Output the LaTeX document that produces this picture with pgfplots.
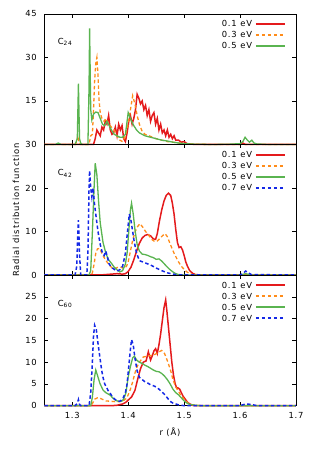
\documentclass[border=0pt]{standalone}
\usepackage{pgfplots}
\pgfplotsset{compat=1.18}
\usepackage{fontspec}
\setmainfont{DejaVu Sans}[LetterSpace=10]
\definecolor{cRed}{RGB}{228,26,28}
\definecolor{cOrange}{RGB}{255,140,26}
\definecolor{cGreen}{RGB}{90,180,80}
\definecolor{cBlue}{RGB}{20,40,230}
\newcommand{\fs}{\fontsize{8.4}{10}\selectfont}
\pgfplotsset{
  panel/.style={
    scale only axis, width=251.7bp, height=130.5bp,
    xmin=1.25, xmax=1.7, xtick={1.3,1.4,1.5,1.6,1.7},
    tick align=inside, major tick length=4bp,
    tick style={black, line width=0.6bp},
    axis line style={line width=0.8bp},
    clip=false,
    tick label style={font=\fs},
    yticklabel style={xshift=-4bp},
    xticklabel style={yshift=-3.5bp},
    /pgf/number format/assume math mode=true,
    legend cell align=right, legend plot pos=right,
    legend image code/.code={\draw[##1, line width=1.8bp] (0bp,0bp) -- (29bp,0bp);},
    legend style={draw=none, fill=none, at={(rel axis cs:1,1)}, anchor=north east,
      inner sep=0pt, row sep=0pt,
      xshift=-10bp, yshift=-4.5bp, font=\fs,
      nodes={inner ysep=2bp, inner xsep=3bp, text height=6.2bp, text depth=0.8bp}},
  },
  sR/.style={color=cRed, line width=1.5bp},
  sO/.style={color=cOrange, line width=1.3bp, dash pattern=on 3.5bp off 2.5bp},
  sG/.style={color=cGreen, line width=1.3bp},
  sB/.style={color=cBlue, line width=1.5bp, dash pattern=on 3.5bp off 2.5bp},
}
\begin{document}
\begin{tikzpicture}
\useasboundingbox (0,0) rectangle (336bp,450bp);
% ---------- panel 1: C24
\begin{axis}[panel, at={(44.3bp,305.5bp)}, anchor=south west,
  ymin=0, ymax=45, ytick={0,15,30,45}, yticklabels={,15,30,45}, xticklabels={}]
\addplot[sR] coordinates {(1.25,0) (1.338,0) (1.341,2) (1.344,5) (1.347,4) (1.35,3) (1.353,6) (1.356,5) (1.359,8) (1.362,7) (1.365,10) (1.368,5) (1.371,3.5) (1.374,4) (1.377,6) (1.38,3) (1.383,7) (1.386,5) (1.389,6.5) (1.392,2) (1.395,1) (1.398,4) (1.401,8) (1.404,10) (1.407,7) (1.41,9) (1.413,12) (1.416,17.3) (1.419,16) (1.422,14) (1.425,15) (1.428,12) (1.431,13.5) (1.434,10) (1.437,12) (1.44,8) (1.443,10) (1.446,11) (1.449,7) (1.452,9) (1.455,5) (1.458,7) (1.461,4) (1.464,5) (1.467,3) (1.47,5) (1.473,2.5) (1.476,3.5) (1.479,2) (1.482,3) (1.485,1.5) (1.49,1.5) (1.495,0.8) (1.5,1) (1.505,0.3) (1.51,0.2) (1.52,0) (1.6,0) (1.605,0.5) (1.61,0) (1.7,0)};
\addlegendentry{0.1 eV}
\addplot[sO] coordinates {(1.25,0) (1.305,0) (1.308,1) (1.31,3) (1.312,0.5) (1.315,0) (1.33,0) (1.333,3) (1.336,3.5) (1.338,12) (1.34,22) (1.342,28) (1.344,30) (1.346,24) (1.348,15) (1.35,11) (1.353,9) (1.357,8) (1.36,9) (1.365,7) (1.37,6) (1.375,5) (1.38,3) (1.385,1.5) (1.39,1) (1.395,3) (1.4,7) (1.404,12) (1.408,16.8) (1.412,14) (1.416,10) (1.42,7) (1.425,4.5) (1.43,3.5) (1.44,2.8) (1.45,2) (1.46,1.5) (1.47,1) (1.48,0.8) (1.49,0.5) (1.5,0.3) (1.52,0.1) (1.55,0) (1.7,0)};
\addlegendentry{0.3 eV}
\addplot[sG] coordinates {(1.25,0) (1.27,0) (1.275,0.5) (1.28,0) (1.305,0) (1.309,2) (1.311,21) (1.313,2) (1.315,0.5) (1.318,0) (1.328,0) (1.33,20) (1.331,40) (1.333,12) (1.335,8.5) (1.338,10.5) (1.342,11.2) (1.346,11) (1.35,9) (1.354,7) (1.358,6.5) (1.362,8) (1.366,6.5) (1.37,5) (1.375,3.5) (1.38,3) (1.385,2.5) (1.39,2.5) (1.395,3.5) (1.398,8) (1.4,11) (1.403,9.5) (1.406,8) (1.41,6.5) (1.415,5) (1.42,4) (1.43,3) (1.44,2.5) (1.45,2) (1.46,1.5) (1.47,1.2) (1.48,0.8) (1.49,0.5) (1.5,0.3) (1.52,0.1) (1.55,0) (1.58,0.1) (1.6,0.3) (1.605,1) (1.609,2.5) (1.613,1.5) (1.617,0.8) (1.621,1.5) (1.625,0.5) (1.63,0.2) (1.65,0) (1.7,0)};
\addlegendentry{0.5 eV}
\node[anchor=west, font=\fs] at (rel axis cs:0.04,0.785) {C\textsubscript{24}};
\end{axis}
% ---------- panel 2: C42
\begin{axis}[panel, at={(44.3bp,175bp)}, anchor=south west,
  ymin=0, ymax=30, ytick={0,10,20,30}, xticklabels={}]
\addplot[sR] coordinates {(1.25,0) (1.35,0) (1.36,0.1) (1.37,0.2) (1.38,0.3) (1.39,0.2) (1.395,0.3) (1.4,0.8) (1.405,1.8) (1.41,3.5) (1.415,5.5) (1.42,7.3) (1.425,8.5) (1.43,9.1) (1.435,9.3) (1.44,9) (1.445,8.3) (1.449,8.2) (1.452,9.5) (1.456,12.5) (1.46,15) (1.464,17) (1.468,18.3) (1.472,18.8) (1.476,18.3) (1.479,16.5) (1.482,14) (1.485,10.5) (1.488,7.5) (1.491,6.3) (1.494,6.5) (1.497,5.8) (1.5,4.5) (1.503,3) (1.506,2) (1.51,1) (1.515,0.4) (1.52,0.1) (1.53,0) (1.7,0)};
\addlegendentry{0.1 eV}
\addplot[sO] coordinates {(1.25,0) (1.333,0) (1.336,0.5) (1.339,2.5) (1.342,5) (1.345,6) (1.349,6.1) (1.353,5) (1.357,4) (1.362,3) (1.367,2.2) (1.372,1.5) (1.377,1.5) (1.382,1.8) (1.387,1.8) (1.392,1.5) (1.397,2) (1.4,3) (1.404,5.5) (1.408,8) (1.412,9.8) (1.416,11) (1.421,11.8) (1.426,11) (1.431,10) (1.436,9.3) (1.441,8.3) (1.446,7.8) (1.451,7.7) (1.456,8.3) (1.461,9) (1.466,9.5) (1.47,8.8) (1.474,7.5) (1.478,6.2) (1.482,5) (1.486,4) (1.49,3) (1.495,2) (1.5,1.3) (1.505,0.7) (1.51,0.3) (1.515,0.1) (1.52,0) (1.7,0)};
\addlegendentry{0.3 eV}
\addplot[sG] coordinates {(1.25,0) (1.33,0) (1.333,1) (1.336,10) (1.339,20) (1.341,25.7) (1.344,23) (1.347,17) (1.35,12) (1.355,7.5) (1.36,5) (1.365,3.5) (1.37,2.7) (1.375,1.8) (1.38,1.2) (1.385,0.7) (1.39,1) (1.395,2.5) (1.398,5) (1.401,10) (1.404,15) (1.406,16.5) (1.409,14) (1.412,10.5) (1.416,7) (1.42,5.5) (1.425,4.8) (1.43,4.7) (1.435,4.5) (1.44,4.2) (1.445,4) (1.45,3.6) (1.455,3.7) (1.46,3.2) (1.465,2.5) (1.47,1.8) (1.475,1.2) (1.48,0.7) (1.485,0.3) (1.49,0.1) (1.5,0) (1.6,0) (1.61,0.3) (1.62,0) (1.7,0)};
\addlegendentry{0.5 eV}
\addplot[sB] coordinates {(1.25,0) (1.305,0) (1.308,2) (1.31,10) (1.311,12.6) (1.313,5) (1.315,0) (1.326,0) (1.328,5) (1.33,20) (1.331,24) (1.333,20) (1.335,18) (1.337,20) (1.34,16) (1.343,13) (1.346,10) (1.35,7) (1.354,5) (1.357,4.5) (1.36,5.5) (1.363,4) (1.366,2.5) (1.37,1.8) (1.375,1.3) (1.38,0.9) (1.385,1.2) (1.39,2) (1.395,5) (1.398,9) (1.402,14) (1.405,12.5) (1.408,10) (1.411,7.5) (1.415,5) (1.42,3.3) (1.43,2.8) (1.44,2.3) (1.45,1.6) (1.46,1) (1.47,0.5) (1.48,0.2) (1.49,0) (1.6,0) (1.605,0.3) (1.61,0.9) (1.615,0.5) (1.62,0.1) (1.7,0)};
\addlegendentry{0.7 eV}
\node[anchor=west, font=\fs] at (rel axis cs:0.04,0.78) {C\textsubscript{42}};
\end{axis}
% ---------- panel 3: C60
\begin{axis}[panel, at={(44.3bp,44.3bp)}, anchor=south west,
  ymin=0, ymax=30, ytick={0,5,10,15,20,25,30}, yticklabels={0,5,10,15,20,25,}]
\addplot[sR] coordinates {(1.25,0) (1.37,0) (1.38,0.1) (1.39,0.4) (1.396,0.8) (1.4,1.3) (1.406,2) (1.412,3.5) (1.418,6.6) (1.422,8.5) (1.427,10) (1.432,10.3) (1.436,12.4) (1.44,10.5) (1.444,11.8) (1.446,12.6) (1.449,13.1) (1.452,12) (1.455,14) (1.458,16.5) (1.461,19.5) (1.464,22.5) (1.467,24.3) (1.469,22) (1.472,18) (1.475,14) (1.478,10) (1.481,7) (1.484,5) (1.487,4) (1.489,4.1) (1.492,3.8) (1.495,3) (1.498,2.2) (1.502,1.5) (1.506,0.8) (1.51,0.4) (1.515,0.1) (1.52,0) (1.7,0)};
\addlegendentry{0.1 eV}
\addplot[sO] coordinates {(1.25,0) (1.333,0) (1.336,0.5) (1.34,1.5) (1.345,1.8) (1.35,1.7) (1.355,1.4) (1.36,1.1) (1.37,1) (1.38,0.9) (1.39,1) (1.397,1.7) (1.4,2.5) (1.404,3.8) (1.408,5.5) (1.412,7.5) (1.416,9) (1.42,10) (1.427,11.2) (1.435,11.4) (1.442,11.6) (1.448,11.8) (1.454,12.3) (1.46,12.7) (1.465,12) (1.471,10) (1.476,8) (1.48,6) (1.485,4.3) (1.49,3.3) (1.494,2.4) (1.5,1.5) (1.505,0.8) (1.51,0.3) (1.52,0.1) (1.53,0) (1.7,0)};
\addlegendentry{0.3 eV}
\addplot[sG] coordinates {(1.25,0) (1.333,0) (1.336,2) (1.339,6) (1.342,8.2) (1.345,7) (1.3495,5.1) (1.355,3.6) (1.36,3) (1.364,2.7) (1.368,2.4) (1.373,1.7) (1.378,1.2) (1.383,1) (1.388,1) (1.392,1.5) (1.396,3) (1.4,6.6) (1.404,9) (1.408,11) (1.411,11.4) (1.415,10.5) (1.42,10) (1.425,9.7) (1.43,9.3) (1.435,9) (1.44,8.6) (1.445,8.2) (1.45,7.9) (1.455,7.8) (1.46,7.4) (1.465,6.8) (1.47,6) (1.475,5) (1.48,3.8) (1.485,3) (1.49,2.5) (1.495,1.8) (1.5,1.1) (1.505,0.6) (1.51,0.3) (1.52,0.1) (1.53,0) (1.7,0)};
\addlegendentry{0.5 eV}
\addplot[sB] coordinates {(1.25,0) (1.305,0) (1.309,0.5) (1.311,1.4) (1.313,0.3) (1.315,0) (1.33,0) (1.333,3) (1.336,10) (1.338,16) (1.34,18.5) (1.343,17.5) (1.346,14.3) (1.349,11.5) (1.3525,8.2) (1.355,6.5) (1.358,5) (1.361,4.3) (1.364,3.5) (1.367,3) (1.37,2.4) (1.375,1.6) (1.38,1.1) (1.385,1) (1.39,1.5) (1.395,3) (1.398,5) (1.401,9) (1.404,13) (1.406,15.2) (1.409,14) (1.412,11) (1.416,8) (1.42,6.5) (1.425,6) (1.43,5.5) (1.435,5.2) (1.44,4.8) (1.445,4.6) (1.45,4.3) (1.455,3.8) (1.46,3.2) (1.465,2.6) (1.47,1.8) (1.475,1) (1.48,0.6) (1.49,0.2) (1.5,0) (1.6,0) (1.61,0.4) (1.62,0.3) (1.63,0) (1.7,0)};
\addlegendentry{0.7 eV}
\node[anchor=west, font=\fs] at (rel axis cs:0.04,0.78) {C\textsubscript{60}};
\end{axis}
\node[rotate=90, font=\fs] at (16bp,240bp) {Radial distribution function};
\node[font=\fs] at (170bp,18bp) {r (Å)};
\end{tikzpicture}
\end{document}
